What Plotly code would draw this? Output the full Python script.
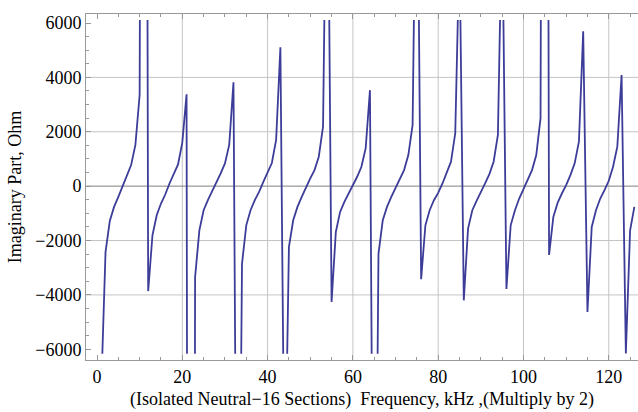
import plotly.graph_objects as go

freq = list(range(1, 127))
imag_part = [
    -7400, -2425, -1280, -763, -394, -20, 345, 775, 1514, 3360,          # 1-10
    60000, -3860, -1810, -1071, -640, -308, 98, 468, 800, 1600,          # 11-20
    3380, -90000, -3350, -1625, -886, -517, -209, 160, 468, 837,         # 21-30
    1514, 3816, -21000, -2856, -1440, -886, -517, -209, 160, 500,        # 31-40
    850, 1700, 5110, -12000, -2240, -1255, -763, -394, -25, 283,         # 41-50
    590, 1083, 2190, 15000, -4260, -1686, -948, -579, -271, 37,          # 51-60
    345, 714, 1400, 3530, -20700, -2490, -1255, -763, -394, -86,         # 61-70
    222, 590, 1145, 2250, 15000, -3420, -1440, -886, -517, -246,         # 71-80
    98, 468, 900, 1945, 8900, -4200, -1563, -886, -541, -246,            # 81-90
    98, 443, 900, 1883, 10300, -3780, -1440, -886, -455, -123,           # 91-100
    222, 590, 1145, 2500, 60000, -2530, -1133, -615, -271, 37,           # 101-110
    406, 837, 1637, 5700, -4630, -1502, -886, -455, -148, 197,           # 111-120
    714, 1453, 4090, -6150, -1625, -760,                                 # 121-126
]

x_ticks = [0, 20, 40, 60, 80, 100, 120]
y_ticks = [-6000, -4000, -2000, 0, 2000, 4000, 6000]
x_tick_text = ["0", "20", "40", "60", "80", "100", "120"]
y_tick_text = ["\u22126000", "\u22124000", "\u22122000", "0", "2000", "4000", "6000"]
x_grid = [20, 40, 60, 80, 100, 120]
y_grid = [-4000, -2000, 2000, 4000]

clip_lo, clip_hi = -6162, 6110          # plot range used for clipping
x_range = [-2.58, 126.85]
y_range = [-6394, 6331]


def clip_polyline(xs, ys, lo, hi):
    ox, oy = [], []
    last = None
    for i in range(len(xs) - 1):
        x0, y0, x1, y1 = xs[i], ys[i], xs[i + 1], ys[i + 1]
        dx, dy = x1 - x0, y1 - y0
        if dy == 0:
            if y0 < lo or y0 > hi:
                continue
            t0, t1 = 0.0, 1.0
        else:
            ta, tb = (lo - y0) / dy, (hi - y0) / dy
            t0, t1 = max(0.0, min(ta, tb)), min(1.0, max(ta, tb))
            if t0 > t1:
                continue
        p = (x0 + t0 * dx, y0 + t0 * dy)
        q = (x0 + t1 * dx, y0 + t1 * dy)
        if last is None or abs(last[0] - p[0]) > 1e-9 or abs(last[1] - p[1]) > 1e-6:
            if ox:
                ox.append(None)
                oy.append(None)
            ox.append(p[0])
            oy.append(p[1])
        ox.append(q[0])
        oy.append(q[1])
        last = q
    return ox, oy


cx, cy = clip_polyline(freq, imag_part, clip_lo, clip_hi)

fig = go.Figure()
fig.add_trace(go.Scatter(x=cx, y=cy, mode="lines",
                         line=dict(color="#3d3d99", width=1.8),
                         connectgaps=False, hoverinfo="skip"))

shapes = []
for gx in x_grid:
    shapes.append(dict(type="line", xref="x", yref="paper", x0=gx, x1=gx, y0=0, y1=1,
                       line=dict(color="#c4c4c4", width=1), layer="below"))
for gy in y_grid:
    shapes.append(dict(type="line", xref="paper", yref="y", x0=0, x1=1, y0=gy, y1=gy,
                       line=dict(color="#c4c4c4", width=1), layer="below"))
shapes.append(dict(type="line", xref="paper", yref="y", x0=0, x1=1, y0=0, y1=0,
                   line=dict(color="#808080", width=1), layer="below"))

font_family = "Liberation Serif"
fs = 18
tick_font = dict(family="Liberation Serif", size=fs, color="black", weight="normal")
fig.update_layout(
    width=638, height=412,
    margin=dict(l=86, r=0, t=14, b=52),
    paper_bgcolor="white", plot_bgcolor="white",
    showlegend=False,
    shapes=shapes,
    font=dict(family=font_family, size=fs, color="black"),
    xaxis=dict(
        range=x_range, tickvals=x_ticks, ticktext=x_tick_text, showgrid=False, zeroline=False,
        showline=True, linecolor="#999999", linewidth=1, mirror="ticks",
        ticks="inside", ticklen=5, tickcolor="#999999",
        minor=dict(dtick=5, tick0=0, ticks="inside", ticklen=3, tickcolor="#999999", showgrid=False),
        tickfont=tick_font,
        title=dict(text="(Isolated Neutral\u221216 Sections)  Frequency, kHz ,(Multiply by 2)",
                   font=dict(family=font_family, size=fs, color="black"), standoff=6),
    ),
    yaxis=dict(
        range=y_range, tickvals=y_ticks, ticktext=y_tick_text, showgrid=False, zeroline=False,
        showline=True, linecolor="#999999", linewidth=1, mirror=False,
        ticks="inside", ticklen=5, tickcolor="#999999",
        minor=dict(dtick=500, tick0=0, ticks="inside", ticklen=3, tickcolor="#999999", showgrid=False),
        tickfont=tick_font,
        title=dict(text="Imaginary Part, Ohm",
                   font=dict(family=font_family, size=fs, color="black"), standoff=8),
    ),
)

fig.write_html("out.html")
